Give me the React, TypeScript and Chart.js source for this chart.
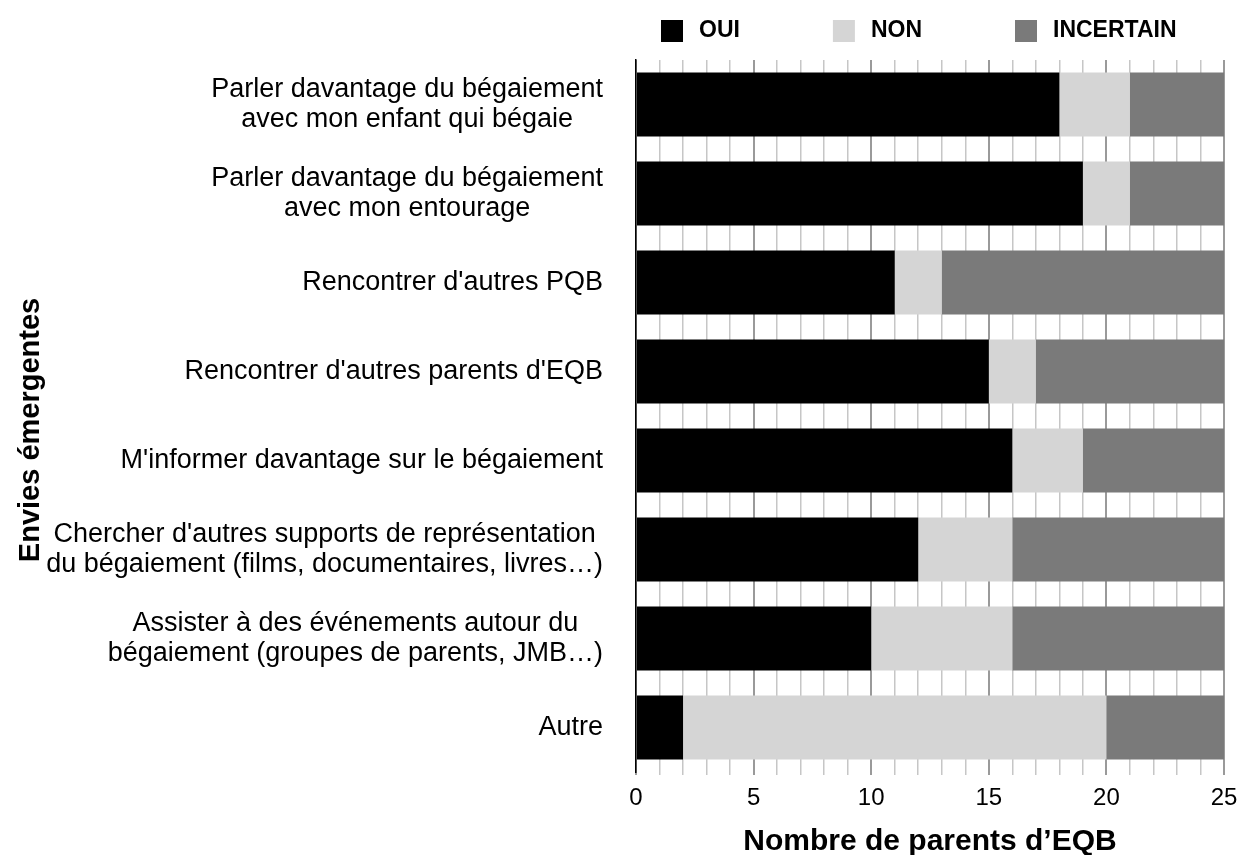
import React, { useEffect, useRef } from 'react';
import { Chart, registerables } from 'chart.js';

Chart.register(...registerables);

const categories: string[][] = [
  ['Parler davantage du bégaiement', 'avec mon enfant qui bégaie'],
  ['Parler davantage du bégaiement', 'avec mon entourage'],
  ["Rencontrer d'autres PQB"],
  ["Rencontrer d'autres parents d'EQB"],
  ["M'informer davantage sur le bégaiement"],
  ["Chercher d'autres supports de représentation", 'du bégaiement (films, documentaires, livres…)'],
  ['Assister à des événements autour du', 'bégaiement (groupes de parents, JMB…)'],
  ['Autre'],
];
const seriesNames = ['OUI', 'NON', 'INCERTAIN'];
const oui = [18, 19, 11, 15, 16, 12, 10, 2];
const non = [3, 2, 2, 2, 3, 4, 6, 18];
const incertain = [4, 4, 12, 8, 6, 9, 9, 5];
const seriesColors = ['#000000', '#d5d5d5', '#7a7a7a'];
const xMin = 0;
const xMax = 25;
const xTitle = 'Nombre de parents d’EQB';
const yTitle = 'Envies émergentes';

const FONT = '"Liberation Sans", Arial, Helvetica, sans-serif';

const customDraw = {
  id: 'customDraw',
  afterDraw(chart: any) {
    const { ctx, chartArea, scales } = chart;
    const y = scales.y;
    ctx.save();
    // category labels: each block right-aligned, lines centred within block
    ctx.font = `27px ${FONT}`;
    ctx.fillStyle = '#000';
    ctx.textAlign = 'center';
    ctx.textBaseline = 'middle';
    const lineH = 30;
    categories.forEach((lines, i) => {
      const cy = y.getPixelForValue(i);
      const w = Math.max(...lines.map((l) => ctx.measureText(l).width));
      const right = chartArea.left - 33;
      const cx = right - w / 2;
      lines.forEach((line, j) => {
        ctx.fillText(line, cx, cy + (j - (lines.length - 1) / 2) * lineH);
      });
    });
    // y axis title
    ctx.save();
    ctx.font = `bold 29px ${FONT}`;
    ctx.translate(31, 430);
    ctx.rotate(-Math.PI / 2);
    ctx.fillText(yTitle, 0, 0);
    ctx.restore();
    // legend (chart.js-style row, uniform padding between items)
    ctx.font = `bold 23px ${FONT}`;
    ctx.textAlign = 'left';
    let x = chartArea.left + 25;
    const box = 22;
    const gap = 16;
    const pad = 93;
    chart.data.datasets.forEach((ds: any) => {
      ctx.fillStyle = ds.backgroundColor;
      ctx.fillRect(x, 20, box, box);
      ctx.fillStyle = '#000';
      ctx.fillText(ds.label, x + box + gap, 31);
      x += box + gap + ctx.measureText(ds.label).width + pad;
    });
    ctx.restore();
  },
};

export default function App() {
  const ref = useRef<HTMLCanvasElement | null>(null);
  useEffect(() => {
    document.body.style.margin = '0';
    if (!ref.current) return;
    const chart = new Chart(ref.current, {
      type: 'bar',
      data: {
        labels: categories.map((c) => c.join(' ')),
        datasets: [oui, non, incertain].map((d, i) => ({
          label: seriesNames[i],
          data: d,
          backgroundColor: seriesColors[i],
          borderWidth: 0,
          barPercentage: 1,
          categoryPercentage: 0.72,
        })),
      },
      options: {
        indexAxis: 'y',
        responsive: false,
        animation: false,
        layout: { padding: { top: 60, right: 17, left: 0, bottom: 0 } },
        plugins: {
          legend: { display: false },
          tooltip: { enabled: false },
        },
        scales: {
          x: {
            stacked: true,
            min: xMin,
            max: xMax,
            afterFit: (s: any) => { s.height = 83; s.paddingRight = 0; s.paddingLeft = 0; },
            border: { display: false },
            grid: {
              drawTicks: true,
              tickLength: 3,
              color: (c: any) => (c.tick && c.tick.value % 5 === 0 ? '#9a9a9a' : '#c6c6c6'),
              lineWidth: (c: any) => (c.tick && c.tick.value % 5 === 0 ? 2 : 1.5),
            },
            ticks: {
              stepSize: 1,
              autoSkip: false,
              maxRotation: 0,
              padding: 9,
              color: '#000',
              font: { family: FONT, size: 24 },
              callback: (v: any) => (Number(v) % 5 === 0 ? String(v) : ''),
            },
            title: {
              display: true,
              text: xTitle,
              color: '#000',
              font: { family: FONT, size: 30, weight: 'bold', lineHeight: 0.9 },
              padding: { top: 0, bottom: 0 },
            },
          },
          y: {
            stacked: true,
            afterFit: (s: any) => { s.width = 636; },
            grid: { display: false },
            border: { display: true, color: '#000', width: 1.5 },
            ticks: { display: false },
            title: { display: false },
          },
        },
      },
      plugins: [customDraw],
    } as any);
    return () => chart.destroy();
  }, []);
  return (
    <div style={{ width: 1241, height: 855 }}>
      <canvas ref={ref} width={1241} height={855} style={{ display: 'block' }} />
    </div>
  );
}
